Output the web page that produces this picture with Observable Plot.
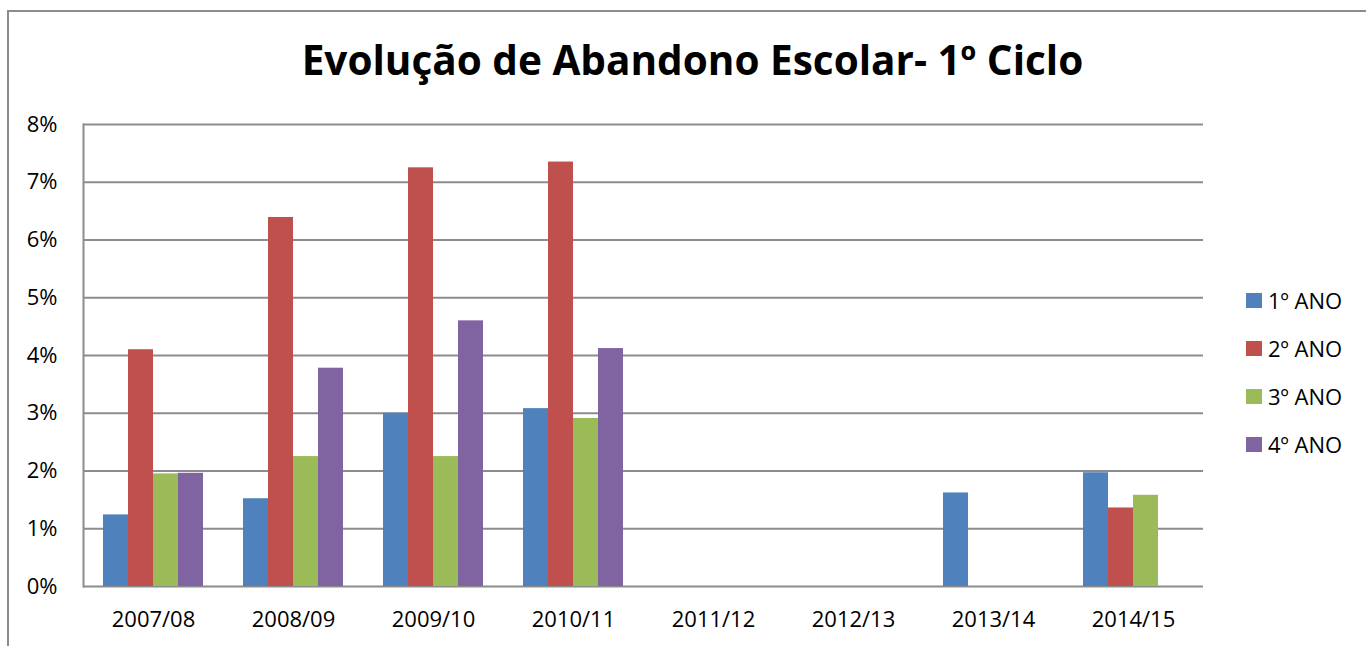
<!DOCTYPE html>
<html>
<head>
<meta charset="utf-8">
<script src="https://cdn.jsdelivr.net/npm/d3@7"></script>
<script src="https://cdn.jsdelivr.net/npm/@observablehq/plot@0.6"></script>
<style>
  body { margin: 0; background: #fff; font-family: "Open Sans", sans-serif; }
  #wrap { position: relative; width: 1366px; height: 646px; overflow: hidden; background: #fff; }
  #frame { position: absolute; left: 7px; top: 10px; width: 1400px; height: 700px; border-left: 2px solid #8c8c8c; border-top: 2px solid #8c8c8c; }
  #title { position: absolute; left: 0; width: 1385px; top: 40px; text-align: center; font-weight: 700; font-size: 40.5px; line-height: 40px; color: #000; }
  #chart { position: absolute; left: 0; top: 100px; }
  #legend { position: absolute; left: 1246px; top: 276px; }
  #legend div[class$="-swatch"] { height: 48px; padding: 0 !important; margin: 0 !important; display: flex; align-items: center; }
  #legend svg { margin-right: 6px !important; }
  #legend, #legend * { font-family: "Open Sans", sans-serif !important; font-size: 22px !important; color: #000 !important; }
</style>
</head>
<body>
<div id="wrap">
  <div id="frame"></div>
  <div id="title">Evolução de Abandono Escolar- 1º Ciclo</div>
  <div id="chart"></div>
  <div id="legend"></div>
</div>
<script>
const years = ["2007/08", "2008/09", "2009/10", "2010/11", "2011/12", "2012/13", "2013/14", "2014/15"];
const series = ["1º ANO", "2º ANO", "3º ANO", "4º ANO"];
const ano1 = [1.24, 1.52, 3.00, 3.08, null, null, 1.62, 1.97];
const ano2 = [4.10, 6.39, 7.25, 7.35, null, null, null, 1.36];
const ano3 = [1.95, 2.25, 2.25, 2.91, null, null, null, 1.58];
const ano4 = [1.96, 3.78, 4.60, 4.12, null, null, null, null];
const colors = ["#4F81BD", "#C0504D", "#9BBB59", "#8064A2"];
const yTicks = [0, 1, 2, 3, 4, 5, 6, 7, 8];

// every year × series row is kept (missing values stay null) so empty years still get a facet
const seriesValues = [ano1, ano2, ano3, ano4];
const table = [];
years.forEach((year, i) => {
  series.forEach((s, j) => {
    table.push({year, series: s, value: seriesValues[j][i]});
  });
});

const fmt = d => d + "%";
const font = '"Open Sans", sans-serif';

const chart = Plot.plot({
  width: 1366,
  height: 546,
  marginLeft: 83,
  marginRight: 163,
  marginTop: 24,
  marginBottom: 60,
  style: {fontFamily: font, fontSize: "22px", color: "#000", background: "transparent", overflow: "visible"},
  fx: {domain: years, padding: 0, label: null},
  x: {domain: series, paddingInner: 0, paddingOuter: 0.745, axis: null},
  y: {domain: [0, 8], label: null},
  color: {domain: series, range: colors},
  marks: [
    Plot.gridY(yTicks, {stroke: "#8c8c8c", strokeOpacity: 1, strokeWidth: 2}),
    Plot.frame({anchor: "left", facet: "super", stroke: "#8c8c8c", strokeOpacity: 1, strokeWidth: 2}),
    Plot.barY(table, {fx: "year", x: "series", y: "value", fill: "series", inset: 0}),
    Plot.axisY(yTicks, {tickSize: 0, tickPadding: 26, tickFormat: fmt, label: null, fontSize: 22}),
    Plot.axisFx({anchor: "bottom", tickSize: 0, tickPadding: 25, label: null, fontSize: 22})
  ]
});
document.getElementById("chart").appendChild(chart);

const legend = Plot.legend({
  color: {domain: series, range: colors},
  legend: "swatches",
  columns: 1,
  swatchWidth: 16,
  swatchHeight: 15
});
document.getElementById("legend").appendChild(legend);
</script>
</body>
</html>
